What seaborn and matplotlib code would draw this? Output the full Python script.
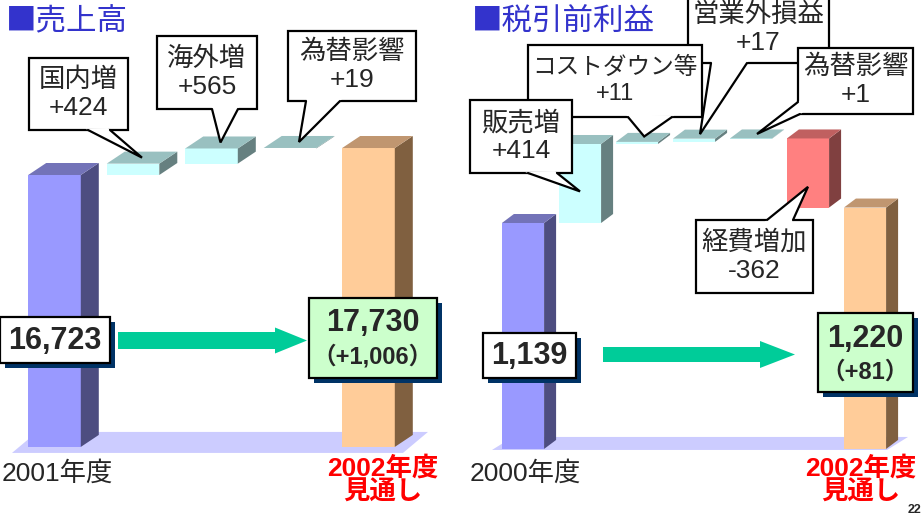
import numpy as np
import matplotlib
matplotlib.use('Agg')
import matplotlib.pyplot as plt
from matplotlib.patches import Polygon, Rectangle, FancyArrow
import seaborn as sns

# ---- data ----
LEFT_TITLE = '■売上高'
LEFT_START_LABEL = '2001年度'
LEFT_START = 16723
LEFT_STEP_NAMES = ['国内増', '海外増', '為替影響']
LEFT_STEPS = [424, 565, 19]
LEFT_END = 17730
LEFT_DIFF = 1006

RIGHT_TITLE = '■税引前利益'
RIGHT_START_LABEL = '2000年度'
RIGHT_START = 1139
RIGHT_STEP_NAMES = ['販売増', 'コストダウン等', '営業外損益', '為替影響', '経費増加']
RIGHT_STEPS = [414, 11, 17, 1, -362]
RIGHT_END = 1220
RIGHT_DIFF = 81

END_LABEL = '2002年度\n見通し'
PAGE_NO = '22'

# ---- colours (front, side, top) ----
START_C = ('#9999FF', '#4D4D80', '#7373B8')
END_C = ('#FFCC99', '#806040', '#C09670')
UP_C = ('#CCFFFF', '#668080', '#99C0C0')
DOWN_C = ('#FF8080', '#804040', '#C06060')
FLOOR_C = '#CCCCFF'
ARROW_C = '#00CC99'
TITLE_C = '#3333CC'

W, H = 924, 518

sns.set_theme(style='white')
plt.rcParams['font.family'] = ['Liberation Sans', 'Noto Sans CJK JP']

fig = plt.figure(figsize=(W / 100, H / 100), dpi=100)
fig.patch.set_facecolor('white')
ax_l = fig.add_axes([0, 0, 462 / W, 1])
ax_r = fig.add_axes([462 / W, 0, 462 / W, 1])
ov = fig.add_axes([0, 0, 1, 1], zorder=5)
ov.set_xlim(0, W)
ov.set_ylim(H, 0)
ov.axis('off')
ov.patch.set_alpha(0)


def set_limits(ax, x_left_px, x_right_px, slot0_px, pitch_px, ref_val, ref_py, upp):
    ax.set_xlim((x_left_px - slot0_px) / pitch_px, (x_right_px - slot0_px) / pitch_px)
    ax.set_ylim(ref_val - (H - ref_py) * upp, ref_val + ref_py * upp)
    ax.axis('off')


def to_px(ax, x, y):
    d = ax.transData.transform((x, y))
    return np.array([d[0], H - d[1]])


def waterfall(ax, start, steps, end, base, width, depth, floor):
    lo, hi = [base], [start]
    level = start
    for s in steps:
        lo.append(min(level, level + s))
        hi.append(max(level, level + s))
        level += s
    lo.append(base)
    hi.append(end)
    lo, hi = np.array(lo, float), np.array(hi, float)
    pos = np.arange(len(lo))
    xl, yl = ax.get_xlim(), ax.get_ylim()
    sns.barplot(x=pos, y=hi - lo, bottom=lo, native_scale=True, width=width,
                errorbar=None, color='white', linewidth=0, ax=ax, zorder=2)
    ax.set_xlim(xl)
    ax.set_ylim(yl)
    ax.axis('off')
    bars = list(ax.patches)
    schemes = [START_C] + [UP_C if s > 0 else DOWN_C for s in steps] + [END_C]
    # pixel depth -> data units
    p0 = ax.transData.transform((0, 0))
    dx = depth[0] / (ax.transData.transform((1, 0))[0] - p0[0])
    dy = depth[1] / (ax.transData.transform((0, 1))[1] - p0[1])
    for bar, (front, side, top) in zip(bars, schemes):
        bar.set_facecolor(front)
        x0, w, y0, h = bar.get_x(), bar.get_width(), bar.get_y(), bar.get_height()
        x1, y1 = x0 + w, y0 + h
        ax.add_patch(Polygon([(x1, y0), (x1 + dx, y0 + dy), (x1 + dx, y1 + dy), (x1, y1)],
                             closed=True, fc=side, ec='none', lw=0, zorder=2))
        ax.add_patch(Polygon([(x0, y1), (x1, y1), (x1 + dx, y1 + dy), (x0 + dx, y1 + dy)],
                             closed=True, fc=top, ec='none', lw=0, zorder=2))
    # floor under the bars
    inv = ax.transData.inverted()
    bl = to_px(ax, pos[0], base) + np.array(floor[0])
    br = to_px(ax, pos[-1], base) + np.array(floor[1])
    sh = np.array(floor[2])
    pts = [bl, br, br + sh, bl + sh]
    ax.add_patch(Polygon([inv.transform((p[0], H - p[1])) for p in pts], closed=True,
                         fc=FLOOR_C, ec='none', lw=0, zorder=1))
    return pos, lo, hi, depth


def callout(box, base, tip, text, z, fs=19):
    x0, y0, x1, y1 = box
    ov.add_patch(Rectangle((x0, y0), x1 - x0, y1 - y0, fc='white', ec='black', lw=1.6, zorder=z))
    tip = np.asarray(tip, float)
    b0, b1 = np.asarray(base[0], float), np.asarray(base[1], float)

    def ext(b):
        v = b - tip
        return b + 3 * v / np.linalg.norm(v)

    ov.add_patch(Polygon([ext(b0), tip, ext(b1)], closed=True, fc='white', ec='none',
                         lw=0, zorder=z + 0.1))
    ov.plot([b0[0], tip[0], b1[0]], [b0[1], tip[1], b1[1]], color='black', lw=1.6,
            zorder=z + 0.2, solid_joinstyle='miter')
    ov.text((x0 + x1) / 2, (y0 + y1) / 2, text, ha='center', va='center', fontsize=fs,
            linespacing=1.2, zorder=z + 0.3)


def value_box(box, fc, z=8, shadow=5):
    x0, y0, x1, y1 = box
    ov.add_patch(Rectangle((x0 + shadow, y0 + shadow), x1 - x0, y1 - y0, fc='#003366',
                           ec='none', zorder=z))
    ov.add_patch(Rectangle((x0, y0), x1 - x0, y1 - y0, fc=fc, ec='black', lw=1.6, zorder=z + 0.1))


# ---- left panel: 売上高 ----
set_limits(ax_l, 0, 462, 54.5, 78.5, LEFT_START, 175, 37.3)
pos_l, lo_l, hi_l, dep_l = waterfall(ax_l, LEFT_START, LEFT_STEPS, LEFT_END, 6580, 0.67,
                                     (18, 12), ((-42.5, 6), (34.5, 6), (25, -21)))

# ---- right panel: 税引前利益 ----
set_limits(ax_r, 462, 924, 523, 57, RIGHT_START, 223, 5.24)
pos_r, lo_r, hi_r, dep_r = waterfall(ax_r, RIGHT_START, RIGHT_STEPS, RIGHT_END, -45, 0.74,
                                     (12, 9), ((-31, 1), (22, 1), (21, -13)))

# ---- callouts ----
LEFT_BOX = [(29, 58, 128, 130), (157, 36, 257, 109), (288, 31, 416, 101)]
LEFT_BASE = [((88, 130), (110, 130)), ((212, 109), (238, 109)), ((306, 101), (340, 101))]
for i, (name, step) in enumerate(zip(LEFT_STEP_NAMES, LEFT_STEPS)):
    k = i + 1
    tip = to_px(ax_l, pos_l[k], hi_l[k]) + np.array([dep_l[0], -dep_l[1]]) * 0.5
    callout(LEFT_BOX[i], LEFT_BASE[i], tip, f'{name}\n{step:+d}', 10 + i)

RIGHT_BOX = [(470, 100, 572, 173), (528, 45, 702, 117), (688, -5, 829, 63),
             (798, 48, 913, 114), (696, 220, 813, 293)]
RIGHT_BASE = [((528, 173), (557, 173)), ((628, 117), (672, 117)), ((711, 63), (747, 63)),
              ((798, 102), (800, 114)), ((767, 220), (793, 220))]
RIGHT_Z = [12, 11, 10, 12, 10]
RIGHT_FS = [19, 17, 19, 19, 19]
RIGHT_TIP = [(0.4, 0), (1, 0.6), (1, 0.5), (1, 0.5), (0.3, 0)]
for i, (name, step) in enumerate(zip(RIGHT_STEP_NAMES, RIGHT_STEPS)):
    k = i + 1
    frac, kd = RIGHT_TIP[i]
    tip = to_px(ax_r, pos_r[k], lo_r[k] + frac * (hi_r[k] - lo_r[k])) \
        + np.array([dep_r[0], -dep_r[1]]) * kd
    callout(RIGHT_BOX[i], RIGHT_BASE[i], tip, f'{name}\n{step:+d}', RIGHT_Z[i], RIGHT_FS[i])

# ---- value boxes and arrows ----
value_box((0, 317, 110, 363), 'white')
ov.text(55, 341, f'{LEFT_START:,}', fontsize=22, weight='bold', ha='center', va='center', zorder=9)
value_box((309, 298, 437, 378), '#CCFFCC')
ov.text(373, 323, f'{LEFT_END:,}', fontsize=22, weight='bold', ha='center', va='center', zorder=9)
ov.text(373, 357, f'（+{LEFT_DIFF:,}）', fontsize=17, weight='bold', ha='center', va='center', zorder=9)

value_box((483, 333, 576, 378), 'white')
ov.text(529, 356, f'{RIGHT_START:,}', fontsize=22, weight='bold', ha='center', va='center', zorder=9)
value_box((818, 313, 913, 392), '#CCFFCC')
ov.text(865, 339, f'{RIGHT_END:,}', fontsize=22, weight='bold', ha='center', va='center', zorder=9)
ov.text(865, 372, f'（+{RIGHT_DIFF}）', fontsize=17, weight='bold', ha='center', va='center', zorder=9)

ov.add_patch(FancyArrow(118, 340.5, 189, 0, width=17, head_width=26, head_length=32,
                        length_includes_head=True, fc=ARROW_C, ec='none', lw=0, zorder=7))
ov.add_patch(FancyArrow(603, 354.5, 192, 0, width=15, head_width=27, head_length=35,
                        length_includes_head=True, fc=ARROW_C, ec='none', lw=0, zorder=7))

# ---- titles and category labels ----
ov.text(6, 22, LEFT_TITLE, fontsize=22, color=TITLE_C, va='center', ha='left',
        family=['Noto Sans CJK JP'])
ov.text(472, 22, RIGHT_TITLE, fontsize=22, color=TITLE_C, va='center', ha='left',
        family=['Noto Sans CJK JP'])
ov.text(2, 473, LEFT_START_LABEL, fontsize=19, va='center', ha='left')
ov.text(470, 473, RIGHT_START_LABEL, fontsize=19, va='center', ha='left')
ov.text(383, 480, END_LABEL, fontsize=19, color='#FF0000', weight='bold', va='center',
        ha='center', linespacing=1.0)
ov.text(861, 480, END_LABEL, fontsize=19, color='#FF0000', weight='bold', va='center',
        ha='center', linespacing=1.0)
ov.text(921, 516, PAGE_NO, fontsize=9, weight='bold', va='bottom', ha='right')

fig.savefig('out.png', dpi=100)
